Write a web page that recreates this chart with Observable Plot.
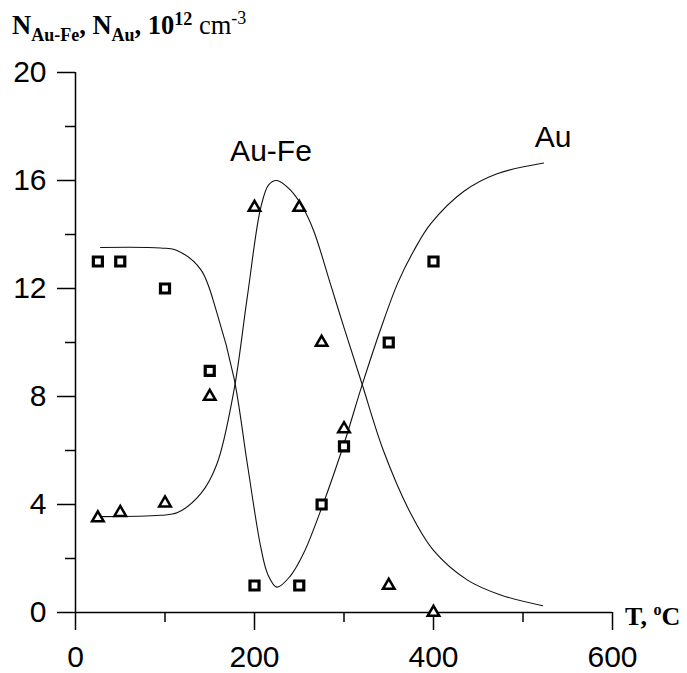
<!DOCTYPE html>
<html><head><meta charset="utf-8">
<script src="https://cdn.jsdelivr.net/npm/d3@7"></script>
<script src="https://cdn.jsdelivr.net/npm/@observablehq/plot@0.6"></script>
<style>body{margin:0;background:#fff} #chart{width:687px;height:673px}</style>
</head><body><div id="chart"></div>
<script>
// measured points
const pointT = [25, 50, 100, 150, 200, 250, 275, 300, 350, 400];
const auPoints = [13, 13, 12, 8.95, 1, 1, 4, 6.15, 10, 13];
const auFePoints = [3.5, 3.7, 4.05, 8, 15, 15, 10, 6.8, 1, 0];

// fitted curves
const auCurveT = [28, 95, 114, 140, 158, 177, 192, 207, 215, 225, 240, 255, 276, 300, 320, 341, 360, 378, 397, 434, 471, 523];
const auCurveV = [13.52, 13.5, 13.4, 12.7, 11.1, 8.7, 5.5, 2.42, 1.4, 0.94, 1.35, 2.2, 3.96, 6.25, 8.4, 10.5, 12.2, 13.4, 14.4, 15.6, 16.25, 16.65];
const auFeCurveT = [28, 95, 114, 140, 158, 177, 192, 207, 216, 225, 240, 254, 266, 285, 300, 320, 344, 374, 400, 438, 475, 522];
const auFeCurveV = [3.55, 3.6, 3.7, 4.4, 5.5, 8.22, 11.7, 15.0, 15.85, 16.0, 15.65, 15.0, 14.15, 12.15, 10.55, 8.48, 6.0, 3.7, 2.3, 1.2, 0.65, 0.25];

const yMajor = [0, 4, 8, 12, 16, 20];
const yMinor = [2, 6, 10, 14, 18];
const xMajor = [0, 200, 400, 600];
const xMinor = [100, 300, 500];

const curveLabels = ["Au-Fe", "Au"];
const labelT = [218.4, 533.5];
const labelV = [17.06, 17.58];

const squares = pointT.map((t, i) => ({t, v: auPoints[i]}));
const triangles = pointT.map((t, i) => ({t, v: auFePoints[i]}));
const auCurve = auCurveT.map((t, i) => ({t, v: auCurveV[i]}));
const auFeCurve = auFeCurveT.map((t, i) => ({t, v: auFeCurveV[i]}));
const labels = curveLabels.map((s, i) => ({s, t: labelT[i], v: labelV[i]}));

const chart = Plot.plot({
  width: 687, height: 673,
  marginLeft: 75, marginRight: 75, marginTop: 72, marginBottom: 61,
  x: {domain: [0, 600], label: null},
  y: {domain: [0, 20], label: null},
  style: {fontFamily: "'Liberation Sans', Arial, sans-serif", fontSize: "30px", color: "#000", background: "#fff", overflow: "visible"},
  marks: [
    Plot.axisX({ticks: xMajor, tickSize: 18, tickPadding: 15, label: null, fontSize: 30, strokeWidth: 1.5}),
    Plot.axisX({ticks: xMinor, tickSize: 10, tickFormat: () => "", label: null, strokeWidth: 1.5}),
    Plot.axisY({ticks: yMajor, tickSize: 18, tickPadding: 11, label: null, fontSize: 30, strokeWidth: 1.5}),
    Plot.axisY({ticks: yMinor, tickSize: 10, tickFormat: () => "", label: null, strokeWidth: 1.5}),
    Plot.ruleX([0], {strokeWidth: 1.5}),
    Plot.ruleY([0], {strokeWidth: 1.5}),
    Plot.line(auCurve, {x: "t", y: "v", curve: "catmull-rom", stroke: "#111", strokeWidth: 1.1}),
    Plot.line(auFeCurve, {x: "t", y: "v", curve: "catmull-rom", stroke: "#111", strokeWidth: 1.1}),
    Plot.dot(squares, {x: "t", y: "v", symbol: "square", r: 5.1, stroke: "#000", strokeWidth: 3.2, fill: "#fff"}),
    Plot.dot(triangles, {x: "t", y: "v", symbol: "triangle", r: 4.3, stroke: "#000", strokeWidth: 2.5, fill: "#fff"}),
    Plot.text(labels, {x: "t", y: "v", text: "s", fontSize: 30, textAnchor: "middle", fill: "#000"})
  ]
});
document.getElementById("chart").appendChild(chart);

const svg = d3.select(chart);
const serif = "'Liberation Serif', 'Times New Roman', serif";
const title = svg.append("text")
  .attr("x", 12).attr("y", 34)
  .attr("text-anchor", "start")
  .attr("font-family", serif).attr("font-size", 26.5).attr("font-weight", "bold").attr("fill", "#000");
title.append("tspan").text("N");
title.append("tspan").attr("font-size", 18).attr("dy", 7).text("Au-Fe");
title.append("tspan").attr("dy", -7).text(", N");
title.append("tspan").attr("font-size", 18).attr("dy", 7).text("Au");
title.append("tspan").attr("dy", -7).text(", 10");
title.append("tspan").attr("font-size", 18).attr("dy", -9).text("12");
title.append("tspan").attr("dy", 9).attr("font-weight", "normal").text(" cm");
title.append("tspan").attr("font-size", 18).attr("font-weight", "normal").attr("dy", -10).text("-3");

const tl = svg.append("text")
  .attr("x", 625).attr("y", 625)
  .attr("text-anchor", "start")
  .attr("font-family", serif).attr("font-size", 26).attr("font-weight", "bold").attr("fill", "#000");
tl.append("tspan").text("T, ");
tl.append("tspan").attr("font-size", 16).attr("dy", -10).text("o");
tl.append("tspan").attr("dy", 10).text("C");
</script>
</body></html>
